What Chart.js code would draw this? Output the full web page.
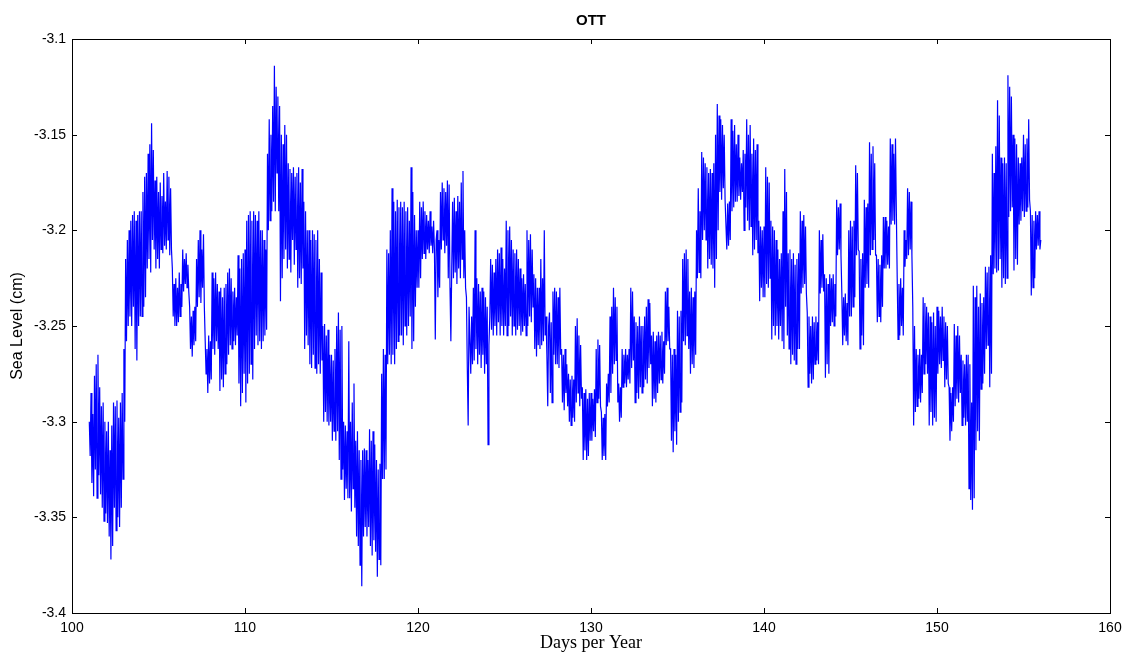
<!DOCTYPE html>
<html lang="en">
<head>
<meta charset="UTF-8">
<title>OTT</title>
<script src="https://cdn.jsdelivr.net/npm/chart.js"></script>
<style>
    html, body { margin: 0; padding: 0; background: #ffffff; }
    #wrap { width: 1122px; height: 654px; }
</style>
</head>
<body>
<div id="wrap"><canvas id="seaChart" width="1122" height="654"></canvas></div>
<script>
// sampling: one value every 0.05 day starting at day 101
const startDay = 101;
const stepDay = 0.05;

// sea level (cm), 20 values per day
const seaLevel = [
    -3.300,-3.318, -3.285,-3.332, -3.296,-3.339, -3.276,-3.325, -3.270,-3.340, -3.265,-3.328, -3.282,-3.338, -3.292,-3.345, -3.290,-3.352, -3.300,-3.348, // 101
    -3.305,-3.353, -3.300,-3.360, -3.315,-3.372, -3.302,-3.365, -3.290,-3.345, -3.292,-3.357, -3.289,-3.350, -3.298,-3.355, -3.290,-3.345, -3.285,-3.330, // 102
    -3.262,-3.300, -3.215,-3.258, -3.205,-3.250, -3.200,-3.245, -3.195,-3.250, -3.192,-3.240, -3.190,-3.262, -3.195,-3.268, -3.192,-3.250, -3.190,-3.245, // 103
    -3.190,-3.245, -3.180,-3.240, -3.172,-3.235, -3.170,-3.220, -3.160,-3.215, -3.155,-3.222, -3.144,-3.205, -3.158,-3.210, -3.174,-3.220, -3.172,-3.215, // 104
    -3.180,-3.220, -3.175,-3.210, -3.182,-3.212, -3.170,-3.208, -3.185,-3.210, -3.169,-3.205, -3.172,-3.213, -3.178,-3.210, -3.220,-3.245, -3.228,-3.250, // 105
    -3.225,-3.250, -3.230,-3.248, -3.222,-3.245, -3.228,-3.240, -3.210,-3.232, -3.215,-3.228, -3.212,-3.230, -3.218,-3.232, -3.240,-3.262, -3.245,-3.266, // 106
    -3.242,-3.260, -3.240,-3.258, -3.215,-3.240, -3.205,-3.235, -3.200,-3.238, -3.210,-3.230, -3.202,-3.240, -3.258,-3.275, -3.262,-3.285, -3.255,-3.280, // 107
    -3.258,-3.278, -3.222,-3.262, -3.225,-3.265, -3.222,-3.258, -3.228,-3.262, -3.232,-3.284, -3.230,-3.278, -3.235,-3.282, -3.230,-3.275, -3.228,-3.270, // 108
    -3.222,-3.265, -3.220,-3.260, -3.225,-3.262, -3.232,-3.258, -3.230,-3.260, -3.235,-3.255, -3.213,-3.280, -3.220,-3.292, -3.215,-3.285, -3.212,-3.275, // 109
    -3.210,-3.290, -3.195,-3.280, -3.192,-3.275, -3.190,-3.270, -3.195,-3.278, -3.190,-3.262, -3.192,-3.255, -3.195,-3.260, -3.190,-3.258, -3.200,-3.262, // 110
    -3.200,-3.258, -3.205,-3.255, -3.210,-3.252, -3.160,-3.200, -3.142,-3.195, -3.150,-3.190, -3.135,-3.185, -3.114,-3.190, -3.125,-3.170, -3.130,-3.190, // 111
    -3.135,-3.237, -3.150,-3.225, -3.155,-3.215, -3.145,-3.210, -3.150,-3.220, -3.165,-3.215, -3.168,-3.222, -3.170,-3.205, -3.167,-3.218, -3.172,-3.210, // 112
    -3.170,-3.230, -3.167,-3.225, -3.175,-3.228, -3.168,-3.220, -3.185,-3.262, -3.190,-3.255, -3.200,-3.260, -3.200,-3.270, -3.205,-3.272, -3.200,-3.265, // 113
    -3.202,-3.272, -3.205,-3.275, -3.200,-3.270, -3.215,-3.275, -3.222,-3.268, -3.250,-3.300, -3.249,-3.295, -3.255,-3.300, -3.252,-3.302, -3.265,-3.300, // 114
    -3.265,-3.310, -3.268,-3.305, -3.262,-3.310, -3.250,-3.305, -3.243,-3.320, -3.252,-3.330, -3.250,-3.325, -3.300,-3.341, -3.302,-3.335, -3.305,-3.340, // 115
    -3.258,-3.340, -3.300,-3.347, -3.290,-3.335, -3.280,-3.345, -3.310,-3.360, -3.305,-3.365, -3.315,-3.375, -3.320,-3.386, -3.315,-3.360, -3.314,-3.355, // 116
    -3.315,-3.360, -3.320,-3.355, -3.304,-3.365, -3.310,-3.370, -3.305,-3.362, -3.312,-3.368, -3.320,-3.381, -3.325,-3.372, -3.322,-3.375, -3.275,-3.330, // 117
    -3.262,-3.330, -3.265,-3.325, -3.210,-3.270, -3.212,-3.265, -3.200,-3.270, -3.178,-3.265, -3.185,-3.270, -3.190,-3.262, -3.184,-3.258, -3.188,-3.255, // 118
    -3.185,-3.255, -3.188,-3.260, -3.185,-3.250, -3.190,-3.255, -3.188,-3.250, -3.195,-3.245, -3.167,-3.262, -3.180,-3.258, -3.192,-3.240, -3.200,-3.230, // 119
    -3.200,-3.230, -3.185,-3.225, -3.188,-3.215, -3.185,-3.212, -3.190,-3.215, -3.192,-3.210, -3.195,-3.212, -3.190,-3.208, -3.198,-3.212, -3.195,-3.210, // 120
    -3.257,-3.205, -3.200,-3.235, -3.205,-3.230, -3.180,-3.210, -3.175,-3.205, -3.178,-3.212, -3.180,-3.208, -3.174,-3.225, -3.176,-3.230, -3.258,-3.220, // 121
    -3.185,-3.225, -3.183,-3.222, -3.190,-3.228, -3.182,-3.220, -3.185,-3.225, -3.175,-3.215, -3.169,-3.225, -3.200,-3.230, -3.235,-3.272, -3.302,-3.240, // 122
    -3.240,-3.275, -3.245,-3.270, -3.230,-3.268, -3.200,-3.262, -3.225,-3.270, -3.228,-3.265, -3.232,-3.272, -3.230,-3.265, -3.232,-3.275, -3.235,-3.270, // 123
    -3.240,-3.312, -3.260,-3.245, -3.215,-3.252, -3.218,-3.255, -3.222,-3.250, -3.215,-3.255, -3.210,-3.248, -3.212,-3.255, -3.209,-3.250, -3.215,-3.255, // 124
    -3.220,-3.250, -3.195,-3.255, -3.200,-3.250, -3.198,-3.245, -3.205,-3.255, -3.210,-3.250, -3.212,-3.255, -3.210,-3.252, -3.215,-3.250, -3.220,-3.255, // 125
    -3.225,-3.253, -3.223,-3.250, -3.228,-3.255, -3.200,-3.250, -3.205,-3.245, -3.202,-3.248, -3.210,-3.240, -3.223,-3.262, -3.225,-3.266, -3.230,-3.260, // 126
    -3.230,-3.262, -3.215,-3.260, -3.225,-3.258, -3.200,-3.255, -3.245,-3.265, -3.292,-3.250, -3.243,-3.285, -3.248,-3.290, -3.232,-3.265, -3.230,-3.270, // 127
    -3.232,-3.270, -3.235,-3.272, -3.230,-3.265, -3.262,-3.290, -3.265,-3.294, -3.262,-3.285, -3.270,-3.292, -3.275,-3.300, -3.278,-3.302, -3.276,-3.298, // 128
    -3.278,-3.300, -3.250,-3.290, -3.246,-3.285, -3.255,-3.292, -3.260,-3.288, -3.282,-3.320, -3.285,-3.315, -3.283,-3.320, -3.288,-3.318, -3.285,-3.310, // 129
    -3.285,-3.310, -3.288,-3.305, -3.283,-3.308, -3.262,-3.290, -3.257,-3.288, -3.260,-3.292, -3.295,-3.320, -3.298,-3.318, -3.296,-3.320, -3.280,-3.292, // 130
    -3.275,-3.290, -3.245,-3.285, -3.240,-3.275, -3.230,-3.270, -3.235,-3.268, -3.240,-3.290, -3.280,-3.300, -3.282,-3.298, -3.262,-3.282, -3.265,-3.280, // 131
    -3.262,-3.282, -3.265,-3.278, -3.262,-3.280, -3.230,-3.272, -3.232,-3.268, -3.245,-3.290, -3.248,-3.285, -3.250,-3.288, -3.245,-3.282, -3.250,-3.285, // 132
    -3.250,-3.282, -3.245,-3.278, -3.240,-3.280, -3.236,-3.272, -3.238,-3.270, -3.255,-3.292, -3.253,-3.288, -3.258,-3.290, -3.255,-3.285, -3.253,-3.280, // 133
    -3.255,-3.278, -3.253,-3.280, -3.258,-3.275, -3.232,-3.260, -3.230,-3.258, -3.240,-3.262, -3.262,-3.310, -3.265,-3.316, -3.262,-3.305, -3.265,-3.312, // 134
    -3.242,-3.300, -3.245,-3.295, -3.242,-3.290, -3.215,-3.258, -3.212,-3.260, -3.210,-3.255, -3.215,-3.262, -3.232,-3.275, -3.230,-3.270, -3.235,-3.272, // 135
    -3.232,-3.265, -3.200,-3.225, -3.178,-3.222, -3.190,-3.225, -3.159,-3.205, -3.162,-3.200, -3.165,-3.205, -3.167,-3.220, -3.170,-3.215, -3.168,-3.218, // 136
    -3.170,-3.220, -3.165,-3.230, -3.150,-3.215, -3.134,-3.200, -3.140,-3.180, -3.142,-3.184, -3.145,-3.178, -3.150,-3.184, -3.184,-3.210, -3.186,-3.208, // 137
    -3.185,-3.205, -3.142,-3.190, -3.148,-3.188, -3.145,-3.185, -3.155,-3.185, -3.150,-3.182, -3.162,-3.184, -3.165,-3.180, -3.158,-3.200, -3.160,-3.188, // 138
    -3.142,-3.195, -3.150,-3.200, -3.145,-3.198, -3.160,-3.213, -3.152,-3.210, -3.158,-3.205, -3.155,-3.212, -3.195,-3.237, -3.198,-3.230, -3.200,-3.235, // 139
    -3.198,-3.235, -3.167,-3.228, -3.172,-3.230, -3.175,-3.225, -3.195,-3.257, -3.198,-3.250, -3.200,-3.255, -3.205,-3.250, -3.210,-3.257, -3.215,-3.250, // 140
    -3.212,-3.258, -3.190,-3.262, -3.168,-3.240, -3.180,-3.255, -3.212,-3.262, -3.210,-3.270, -3.215,-3.265, -3.212,-3.268, -3.218,-3.270, -3.215,-3.262, // 141
    -3.212,-3.262, -3.190,-3.233, -3.195,-3.230, -3.192,-3.228, -3.198,-3.233, -3.243,-3.282, -3.245,-3.275, -3.250,-3.280, -3.245,-3.278, -3.248,-3.270, // 142
    -3.245,-3.268, -3.248,-3.270, -3.200,-3.233, -3.205,-3.230, -3.202,-3.232, -3.223,-3.277, -3.225,-3.270, -3.228,-3.275, -3.223,-3.250, -3.225,-3.248, // 143
    -3.223,-3.250, -3.228,-3.245, -3.184,-3.213, -3.188,-3.210, -3.186,-3.213, -3.233,-3.260, -3.235,-3.255, -3.233,-3.258, -3.238,-3.260, -3.200,-3.245, // 144
    -3.195,-3.245, -3.198,-3.240, -3.195,-3.235, -3.166,-3.213, -3.170,-3.210, -3.211,-3.262, -3.215,-3.255, -3.212,-3.260, -3.184,-3.230, -3.188,-3.228, // 145
    -3.186,-3.230, -3.154,-3.213, -3.160,-3.210, -3.156,-3.205, -3.165,-3.213, -3.213,-3.248, -3.215,-3.245, -3.218,-3.248, -3.213,-3.240, -3.193,-3.220, // 146
    -3.193,-3.220, -3.195,-3.218, -3.198,-3.220, -3.152,-3.197, -3.155,-3.195, -3.160,-3.197, -3.152,-3.190, -3.225,-3.257, -3.228,-3.255, -3.225,-3.250, // 147
    -3.230,-3.255, -3.200,-3.219, -3.205,-3.215, -3.178,-3.213, -3.180,-3.210, -3.185,-3.213, -3.240,-3.302, -3.250,-3.295, -3.262,-3.292, -3.265,-3.288, // 148
    -3.262,-3.290, -3.265,-3.285, -3.235,-3.275, -3.238,-3.270, -3.240,-3.275, -3.243,-3.302, -3.245,-3.295, -3.248,-3.302, -3.243,-3.298, -3.250,-3.300, // 149
    -3.240,-3.275, -3.242,-3.270, -3.245,-3.272, -3.240,-3.268, -3.245,-3.282, -3.248,-3.278, -3.250,-3.280, -3.282,-3.310, -3.285,-3.305, -3.282,-3.300, // 150
    -3.249,-3.292, -3.255,-3.288, -3.250,-3.290, -3.255,-3.285, -3.265,-3.302, -3.268,-3.298, -3.270,-3.302, -3.265,-3.300, -3.265,-3.335, -3.270,-3.341, // 151
    -3.290,-3.346, -3.229,-3.340, -3.235,-3.315, -3.229,-3.305, -3.240,-3.310, -3.233,-3.283, -3.238,-3.280, -3.235,-3.275, -3.219,-3.262, -3.222,-3.260, // 152
    -3.219,-3.282, -3.213,-3.275, -3.160,-3.223, -3.170,-3.220, -3.156,-3.222, -3.132,-3.221, -3.140,-3.215, -3.162,-3.230, -3.165,-3.225, -3.162,-3.228, // 153
    -3.165,-3.225, -3.119,-3.193, -3.125,-3.190, -3.130,-3.188, -3.150,-3.221, -3.152,-3.215, -3.155,-3.218, -3.162,-3.197, -3.165,-3.195, -3.162,-3.190, // 154
    -3.150,-3.193, -3.155,-3.190, -3.152,-3.188, -3.142,-3.184, -3.190,-3.234, -3.192,-3.230, -3.195,-3.225, -3.190,-3.210, -3.192,-3.208, -3.190,-3.210, // 155
    -3.205 // 156
];

const xTicks = [100, 110, 120, 130, 140, 150, 160];
const yTicks = [-3.4, -3.35, -3.3, -3.25, -3.2, -3.15, -3.1];

const points = seaLevel.map((v, i) => ({ x: startDay + i * stepDay, y: v }));

// matlab style box with inward tick marks on all four sides
const boxTicks = {
    id: 'boxTicks',
    afterDatasetsDraw(chart) {
        const { ctx, chartArea: a, scales } = chart;
        const len = 5;
        ctx.save();
        ctx.strokeStyle = '#000';
        ctx.lineWidth = 1;
        ctx.beginPath();
        xTicks.forEach(t => {
            const px = Math.round(scales.x.getPixelForValue(t)) + 0.5;
            ctx.moveTo(px, a.bottom); ctx.lineTo(px, a.bottom - len);
            ctx.moveTo(px, a.top); ctx.lineTo(px, a.top + len);
        });
        yTicks.forEach(t => {
            const py = Math.round(scales.y.getPixelForValue(t)) + 0.5;
            ctx.moveTo(a.left, py); ctx.lineTo(a.left + len, py);
            ctx.moveTo(a.right, py); ctx.lineTo(a.right - len, py);
        });
        ctx.stroke();
        ctx.strokeRect(Math.round(a.left) + 0.5, Math.round(a.top) + 0.5,
            Math.round(a.right - a.left), Math.round(a.bottom - a.top));
        ctx.restore();
    }
};

new Chart(document.getElementById('seaChart').getContext('2d'), {
    type: 'line',
    data: {
        datasets: [{
            data: points,
            borderColor: '#0000ff',
            borderWidth: 1.2,
            pointRadius: 0,
            tension: 0,
            fill: false
        }]
    },
    options: {
        responsive: false,
        animation: false,
        events: [],
        layout: { padding: { left: 0, right: 12, top: 0, bottom: 0 } },
        plugins: {
            legend: { display: false },
            tooltip: { enabled: false },
            title: {
                display: true,
                text: 'OTT',
                fullSize: false,
                color: '#000',
                font: { family: 'Liberation Sans, Arial, sans-serif', size: 15, weight: 'bold' },
                padding: { top: 12, bottom: 9 }
            }
        },
        scales: {
            x: {
                type: 'linear',
                min: 100,
                max: 160,
                afterBuildTicks: s => { s.ticks = xTicks.map(v => ({ value: v })); },
                afterFit: s => { s.height = 41; s.paddingLeft = 0; s.paddingRight = 0; },
                grid: { display: false, drawTicks: false },
                border: { display: false },
                ticks: {
                    color: '#000',
                    padding: 7,
                    maxRotation: 0,
                    font: { family: 'Liberation Sans, Arial, sans-serif', size: 14 },
                    callback: v => String(v)
                },
                title: {
                    display: true,
                    text: 'Days per Year',
                    color: '#000',
                    font: { family: 'Liberation Serif, Times New Roman, serif', size: 18 },
                    padding: { top: 0, bottom: 0 }
                }
            },
            y: {
                type: 'linear',
                min: -3.4,
                max: -3.1,
                afterBuildTicks: s => { s.ticks = yTicks.map(v => ({ value: v })); },
                afterFit: s => { s.width = 72; s.paddingTop = 0; s.paddingBottom = 0; },
                grid: { display: false, drawTicks: false },
                border: { display: false },
                ticks: {
                    color: '#000',
                    padding: 6,
                    font: { family: 'Liberation Sans, Arial, sans-serif', size: 14 },
                    callback: v => String(Number(v.toFixed(2)))
                },
                title: {
                    display: true,
                    text: 'Sea Level (cm)',
                    color: '#000',
                    font: { family: 'Liberation Sans, Arial, sans-serif', size: 16 },
                    padding: { top: 8, bottom: 0 }
                }
            }
        }
    },
    plugins: [boxTicks]
});
</script>
</body>
</html>
